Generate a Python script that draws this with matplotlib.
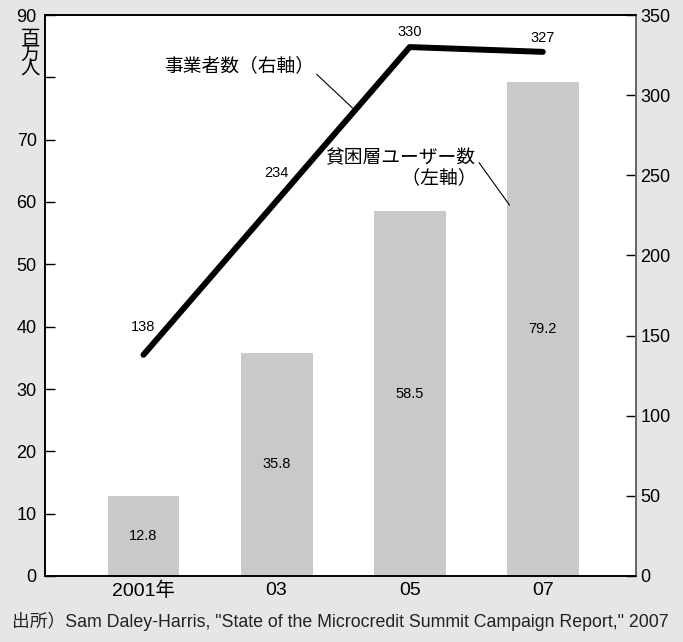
import matplotlib.pyplot as plt
import numpy as np

plt.rcParams['font.family'] = ['Liberation Sans', 'Noto Sans CJK JP']

# データ
years = ['2001年', '03', '05', '07']
users = [12.8, 35.8, 58.5, 79.2]          # 貧困層ユーザー数（百万人, 左軸）
providers = [138, 234, 330, 327]          # 事業者数（右軸）
left_ticks = [0, 10, 20, 30, 40, 50, 60, 70, 80, 90]
left_labels = ['0', '10', '20', '30', '40', '50', '60', '70', '', '90']
right_ticks = [0, 50, 100, 150, 200, 250, 300, 350]

x = np.arange(len(years))

fig = plt.figure(figsize=(6.83, 6.42), dpi=100, facecolor='#e6e6e6')
ax = fig.add_axes([45/683, 1-576/642, 591/683, 561/642])
ax.set_facecolor('white')

# 棒グラフ（左軸）
ax.bar(x, users, width=0.54, color='#c8c9cb', zorder=1)
for xi, v in zip(x, users):
    ax.text(xi, v / 2, f'{v}', ha='center', va='center', fontsize=10.5)

ax.set_xlim(-0.74, 3.70)
ax.set_ylim(0, 90)
ax.set_xticks(x)
ax.set_xticklabels(years, fontsize=14)
ax.set_yticks(left_ticks)
ax.set_yticklabels(left_labels, fontsize=13)
ax.tick_params(axis='y', direction='in', length=7, width=1, pad=6)
ax.tick_params(axis='x', length=0, pad=4)
ax.text(-0.008, 83.6, '百\n万\n人', transform=ax.get_yaxis_transform(),
        ha='right', va='center', fontsize=14, linespacing=0.86)

# 折れ線（右軸）
ax2 = ax.twinx()
ax2.plot(x, providers, color='black', lw=4.3, solid_capstyle='round', zorder=3)
ax2.set_ylim(0, 350)
ax2.set_yticks(right_ticks)
ax2.tick_params(axis='y', direction='in', length=7, width=1, labelsize=13, pad=3)
offsets = [20, 20, 11, 10]
for xi, v, dy in zip(x, providers, offsets):
    ax2.annotate(f'{v}', (xi, v), xytext=(0, dy), textcoords='offset points',
                 ha='center', va='center', fontsize=10.5)

for a in (ax, ax2):
    for s in a.spines.values():
        s.set_linewidth(1.2)
ax2.spines['right'].set_color('#777777')

# 凡例代わりの注記
ax2.annotate('事業者数（右軸）', xy=(1.57, 292), xytext=(1.28, 318),
             textcoords='data', ha='right', va='center', fontsize=13.5,
             arrowprops=dict(arrowstyle='-', color='black', lw=0.8,
                             shrinkA=0, shrinkB=0, relpos=(1, 0.2)))
ax.annotate('貧困層ユーザー数\n　　（左軸）', xy=(2.75, 59.5), xytext=(2.5, 65.4),
            textcoords='data', ha='right', va='center', fontsize=13.5,
            linespacing=1.2,
            arrowprops=dict(arrowstyle='-', color='black', lw=0.8,
                            shrinkA=0, shrinkB=0, relpos=(1, 0.75)))

fig.text(12/683, 1-621/642,
         '出所）Sam Daley-Harris, "State of the Microcredit Summit Campaign Report," 2007',
         ha='left', va='center', fontsize=12.8, color='#222222')

fig.savefig('out.png', dpi=100, facecolor=fig.get_facecolor())
